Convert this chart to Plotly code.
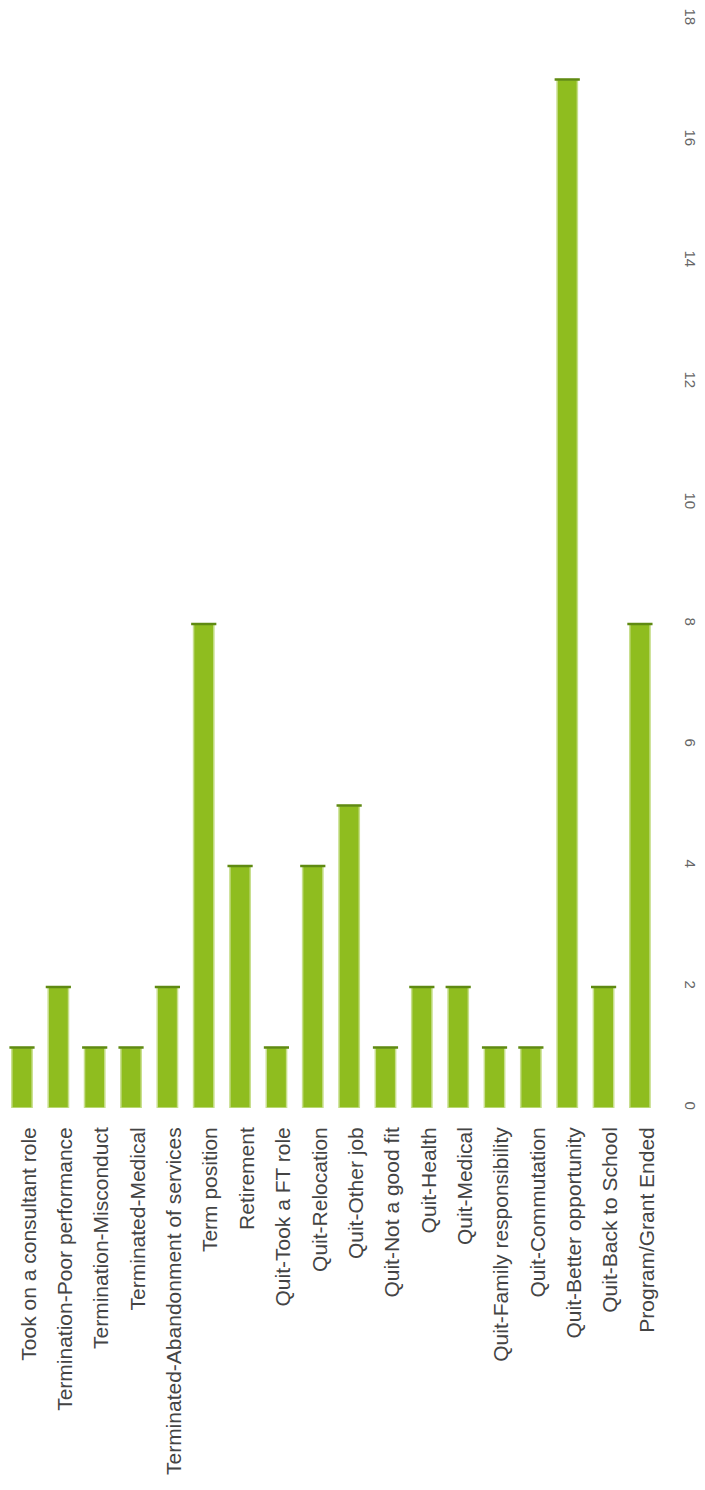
import plotly.graph_objects as go

categories = [
    "Took on a consultant role",
    "Termination-Poor performance",
    "Termination-Misconduct",
    "Terminated-Medical",
    "Terminated-Abandonment of services",
    "Term position",
    "Retirement",
    "Quit-Took a FT role",
    "Quit-Relocation",
    "Quit-Other job",
    "Quit-Not a good fit",
    "Quit-Health",
    "Quit-Medical",
    "Quit-Family responsibility",
    "Quit-Commutation",
    "Quit-Better opportunity",
    "Quit-Back to School",
    "Program/Grant Ended",
]
values = [1, 2, 1, 1, 2, 8, 4, 1, 4, 5, 1, 2, 2, 1, 1, 17, 2, 8]
tick_vals = [0, 2, 4, 6, 8, 10, 12, 14, 16, 18]

x_range = [-0.385, 17.525]
label_shift = 0.19

fig = go.Figure()
fig.add_trace(go.Bar(
    x=categories, y=values,
    marker=dict(color="#8fbd1f", line=dict(color="#c8df8e", width=1.5)),
    width=0.56,
))
fig.add_trace(go.Scatter(
    x=categories, y=values, mode="markers",
    marker=dict(symbol="line-ew", size=18, line=dict(color="#5f8a12", width=2.5)),
    hoverinfo="skip",
))
# invisible trace that carries the category labels on an overlaid axis
fig.add_trace(go.Scatter(
    x=categories, y=values, mode="markers", xaxis="x2",
    marker=dict(opacity=0), hoverinfo="skip",
))
fig.update_layout(
    width=705, height=1490,
    margin=dict(l=0, r=54, t=4, b=390),
    paper_bgcolor="white", plot_bgcolor="white",
    showlegend=False,
    font=dict(family="Liberation Sans, Arial, sans-serif", color="#444444"),
    xaxis=dict(
        type="category", showticklabels=False, showgrid=False, showline=False,
        ticks="", range=x_range, zeroline=False,
    ),
    xaxis2=dict(
        type="category", overlaying="x", side="bottom", anchor="y",
        tickangle=-90, tickfont=dict(size=21, color="#444444"),
        showgrid=False, showline=False, ticks="", zeroline=False,
        range=[x_range[0] - label_shift, x_range[1] - label_shift],
        ticklabelstandoff=14,
    ),
)
fig.update_yaxes(
    side="right", range=[0, 18], tickvals=tick_vals, tickangle=90,
    tickfont=dict(size=15, color="#666666"), showgrid=False, zeroline=False,
    showline=False, ticks="", ticklabelstandoff=22, ticklabeloverflow="allow",
)
fig.write_html("out.html")
